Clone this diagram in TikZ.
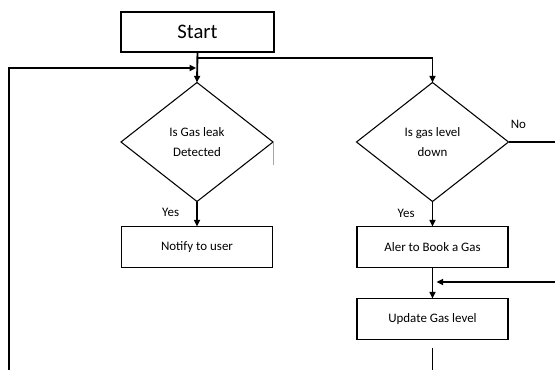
\documentclass[tikz,border=0pt]{standalone}
\usepackage{fontspec}
\setmainfont{Carlito}
\usetikzlibrary{shapes,positioning,arrows.meta,calc}

\begin{document}
\begin{tikzpicture}[x=.75pt,y=-.75pt,
          font=\fontsize{9.7}{15}\selectfont,
          node distance=18.75pt and 2cm,
          >={Triangle[length=5pt,width=4.5pt]},
          flowBox/.style={
            draw,
            line width=.8pt,
            rectangle,
            align=center,
            minimum width=113.25pt,
            minimum height=30.75pt,
            inner sep=2pt,
            outer sep=0pt},
          decision/.style={
            draw,
            line width=.8pt,
            diamond,
            align=center,
            minimum width=114pt,
            minimum height=89.25pt,
            inner sep=0pt,
            outer sep=0pt},
          flowLine/.style={line width=1.4pt},
          edgeLabel/.style={inner sep=0pt} ]

          \useasboundingbox (0,0) rectangle (555,370);

          \node[flowBox, minimum width=114.75pt, minimum height=30pt, font=\fontsize{15.5}{18}\selectfont] (start) at (197.5,32) {Start};
          \node[decision] (leak) at (197,142) {Is Gas leak\\Detected};
          \node[decision] (level) at (432.5,142) {Is gas level\\down};
          \node[flowBox, below=of leak] (notify) {Notify to user};
          \node[flowBox, below=of level] (alert) {Aler to Book a Gas};
          \node[flowBox, below=23.25pt of alert] (update) {Update Gas level};

          \coordinate (split) at ($(start.south)+(0,6)$);
          \coordinate (merge) at ($(start.south)+(0,16)$);
          \coordinate (loopLeft) at (9,370);
          \coordinate (noEnd) at (555,142);
          \coordinate (backIn) at (555,282);
          \coordinate (updOut) at ($(update.south)+(0,8)$);
          \coordinate (updEnd) at (update.south |- 0,370);

          \draw[flowLine,->] (start.south) -- (leak.north);
          \draw[flowLine,->] (split) -| (level.north);
          \draw[flowLine,->,shorten >=1pt] (loopLeft) |- (merge);
          \draw[flowLine,->] (leak.south) -- node[edgeLabel, left=12.75pt, pos=.44] {Yes} (notify.north);
          \draw[flowLine,->] (level.south) -- node[edgeLabel, left=12.75pt, pos=.46] {Yes} (alert.north);
          \draw[flowLine] (level.east) -- node[edgeLabel, anchor=south west, pos=0, xshift=1pt, yshift=9pt] {No} (noEnd);
          \draw[flowLine,->] (alert.south) -- (update.north);
          \draw[flowLine,->,shorten >=3pt] (backIn) -- (backIn -| alert.south);
          \draw[flowLine] (updOut) -- (updEnd);
          \draw[line width=.6pt, gray!70] (leak.east) -- ++(0,23);
        \end{tikzpicture}
\end{document}
